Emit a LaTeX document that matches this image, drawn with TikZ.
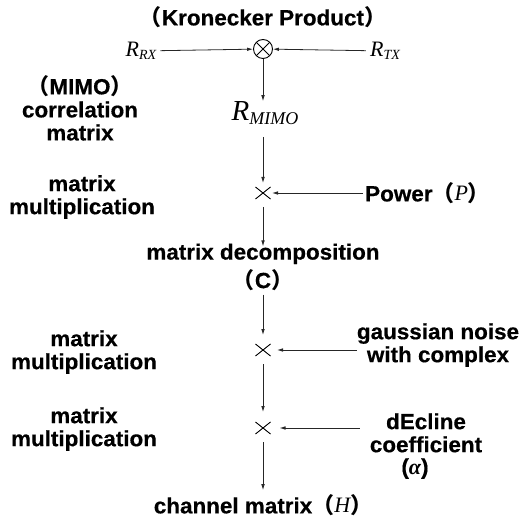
\documentclass[tikz,border=0pt]{standalone}
\usepackage{fontspec}
\setmainfont{Liberation Sans}[FakeStretch=1.02, BoldFeatures={FakeBold=0.5}]
\newfontfamily\cjk{Noto Sans CJK SC}
\newfontfamily\tms{Liberation Serif}
\usetikzlibrary{arrows.meta,shapes.misc}
\newcommand\fl{{\cjk （}}
\newcommand\fr{{\cjk ）}}
\newcommand\Rsub[4]{{\tms\itshape\fontsize{#1}{#1}\selectfont R\raisebox{#4}{\fontsize{#2}{#2}\selectfont #3}}}
\begin{document}
\begin{tikzpicture}[x=1pt,y=-1pt,
  lbl/.style={font=\fontsize{22}{23}\selectfont\bfseries, align=center, inner sep=0pt},
  arr/.style={draw=black!85, line width=0.8pt, -{Latex[length=6pt,width=3.6pt]}},
  mul/.style={cross out, draw, minimum width=7pt, minimum height=4pt, inner sep=0pt, outer sep=4pt, line width=0.9pt},
  kron/.style={circle, draw, minimum size=19pt, inner sep=0pt, line width=0.9pt,
    path picture={\draw[line width=0.9pt] (path picture bounding box.north west) -- (path picture bounding box.south east)
      (path picture bounding box.north east) -- (path picture bounding box.south west);}},
  mathlbl/.style={inner sep=0pt}
]
\useasboundingbox (0,0) rectangle (521,518);

\node[lbl] (title) at (263,17) {\fl Kronecker Product\fr};
\node[kron] (kr) at (263,49) {};
\node[mathlbl] (rrx) at (141,51) {\Rsub{22}{14}{RX}{-0.35ex}};
\node[mathlbl] (rtx) at (385,51) {\Rsub{22}{14}{TX}{-0.35ex}};
\node[mathlbl] (rmimo) at (265,113) {\Rsub{29}{18}{MIMO}{-0.3ex}};
\node[lbl] (mimolbl) at (80,108) {\fl MIMO\fr\\correlation\\matrix};

\node[mul] (x1) at (263,193) {};
\node[lbl, anchor=west] (pw) at (365,193) {Power\fl\raisebox{0.1ex}{\tms\itshape\mdseries P}\fr};
\node[lbl] (mm1) at (82,197) {matrix\\multiplication};

\node[lbl] (dec) at (263,267) {matrix decomposition\\[4pt]\fl C\fr};

\node[mul] (x2) at (263,350) {};
\node[lbl] (gs) at (438,345) {gaussian noise\\with complex};
\node[lbl] (mm2) at (84,352) {matrix\\multiplication};

\node[mul] (x3) at (263,428) {};
\node[lbl] (dc) at (426,446) {dEcline\\coefficient\\[-1pt]\hspace*{-22pt}({\tms\itshape α})};
\node[lbl] (mm3) at (84,429) {matrix\\multiplication};

\node[lbl] (ch) at (263,505) {channel matrix\fl\raisebox{0.1ex}{\tms\itshape\mdseries H}\fr};

\draw[arr, shorten <=4pt] (rrx) -- (kr);
\draw[arr, shorten <=4pt] (rtx) -- (kr);
\draw[arr] (kr) -- (kr |- rmimo.north);
\draw[arr, shorten <=12pt, shorten >=4pt] (kr |- rmimo.south) -- (x1);
\draw[arr, shorten <=2pt, shorten >=1.5pt] (pw.west) -- (x1);
\draw[arr, shorten <=8pt, shorten >=-3pt] (x1) -- (x1 |- dec.north);
\draw[arr, shorten <=4pt, shorten >=9pt] (x1 |- dec.south) -- (x2);
\draw[arr, shorten >=6.5pt] (gs.west |- x2) -- (x2);
\draw[arr, shorten <=8pt, shorten >=10pt] (x2) -- (x3);
\draw[arr, shorten >=9pt] (dc.west |- x3) ++(-10,0) -- (x3);
\draw[arr, shorten <=8pt, shorten >=4pt] (x3) -- (x3 |- ch.north);
\end{tikzpicture}
\end{document}
